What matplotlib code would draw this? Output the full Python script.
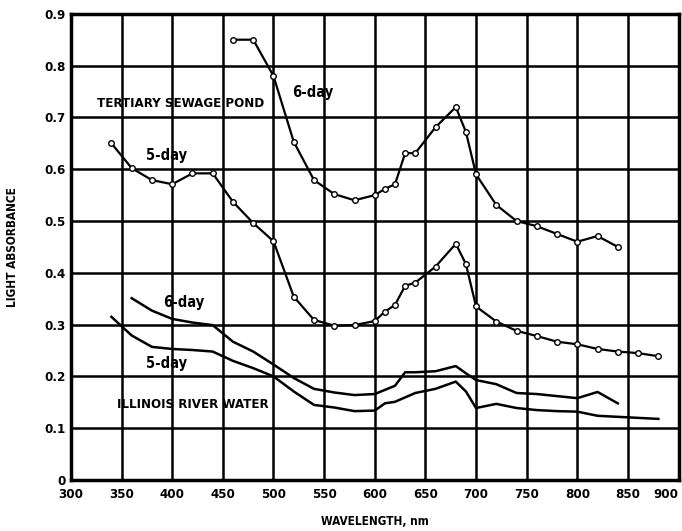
import matplotlib.pyplot as plt

plt.rcParams['font.family'] = ['DejaVu Sans']
plt.rcParams['font.stretch'] = 'condensed'
plt.rcParams['font.weight'] = 'bold'

# tertiary sewage pond, 6-day and 5-day (measured points)
pond6_wl = [460, 480, 500, 520, 540, 560, 580, 600, 610, 620, 630, 640, 660, 680,
            690, 700, 720, 740, 760, 780, 800, 820, 840]
pond6_abs = [0.85, 0.85, 0.78, 0.653, 0.579, 0.552, 0.54, 0.55, 0.562, 0.571, 0.631,
             0.631, 0.681, 0.72, 0.672, 0.59, 0.531, 0.50, 0.49, 0.475, 0.46, 0.471, 0.45]

pond5_wl = [340, 360, 380, 400, 420, 440, 460, 480, 500, 520, 540, 560, 580, 600,
            610, 620, 630, 640, 660, 680, 690, 700, 720, 740, 760, 780, 800, 820,
            840, 860, 880]
pond5_abs = [0.65, 0.602, 0.579, 0.571, 0.592, 0.592, 0.537, 0.496, 0.461, 0.354,
             0.309, 0.298, 0.299, 0.307, 0.325, 0.338, 0.375, 0.381, 0.412, 0.456,
             0.417, 0.335, 0.306, 0.288, 0.278, 0.267, 0.262, 0.253, 0.248, 0.245,
             0.239]

# Illinois river water, 6-day and 5-day (smooth traces)
river6_wl = [360, 380, 400, 420, 440, 460, 480, 500, 520, 540, 560, 580, 600, 610,
             620, 630, 640, 660, 680, 690, 700, 720, 740, 760, 780, 800, 820, 840]
river6_abs = [0.351, 0.327, 0.311, 0.304, 0.299, 0.267, 0.248, 0.223, 0.197, 0.176,
              0.169, 0.164, 0.166, 0.174, 0.182, 0.208, 0.208, 0.21, 0.22, 0.206,
              0.193, 0.185, 0.168, 0.166, 0.162, 0.158, 0.17, 0.148]

river5_wl = [340, 360, 380, 400, 420, 440, 460, 480, 500, 520, 540, 560, 580, 600,
             610, 620, 640, 660, 680, 690, 700, 720, 740, 760, 780, 800, 820, 840,
             860, 880]
river5_abs = [0.315, 0.279, 0.257, 0.253, 0.251, 0.248, 0.23, 0.216, 0.2, 0.171,
              0.145, 0.14, 0.133, 0.134, 0.148, 0.151, 0.168, 0.176, 0.19, 0.171,
              0.139, 0.147, 0.139, 0.135, 0.133, 0.132, 0.124, 0.122, 0.12, 0.118]

x_ticks = [300, 350, 400, 450, 500, 550, 600, 650, 700, 750, 800, 850, 900]
y_ticks = [0, 0.1, 0.2, 0.3, 0.4, 0.5, 0.6, 0.7, 0.8, 0.9]
y_labels = ['0', '0.1', '0.2', '0.3', '0.4', '0.5', '0.6', '0.7', '0.8', '0.9']

fig = plt.figure(figsize=(6.82, 5.31), dpi=100)
ax = fig.add_axes([0.104, 0.096, 0.891, 0.878])

mk = dict(marker='o', markersize=4, markerfacecolor='white', markeredgecolor='black',
          markeredgewidth=1.0, color='black', lw=1.6)
ax.plot(pond6_wl, pond6_abs, **mk)
ax.plot(pond5_wl, pond5_abs, **mk)
ax.plot(river6_wl, river6_abs, color='black', lw=1.8)
ax.plot(river5_wl, river5_abs, color='black', lw=1.8)

ax.set_xlim(300, 900)
ax.set_ylim(0, 0.9)
ax.set_xticks(x_ticks)
ax.set_yticks(y_ticks)
ax.set_yticklabels(y_labels)
ax.grid(True, color='black', lw=1.8)
ax.tick_params(length=0, labelsize=9.5)
ax.tick_params(axis='x', pad=6)
ax.tick_params(axis='y', pad=4)
# keep the last wavelength label inside the figure
ax.get_xticklabels()[-1].set_horizontalalignment('right')
for s in ax.spines.values():
    s.set_linewidth(2.5)

txt = dict(fontsize=9.5, fontweight='bold', va='center', ha='left')
ax.text(326, 0.726, 'TERTIARY SEWAGE POND', **txt)
ax.text(518, 0.749, '6-day', fontsize=10.5, fontweight='bold', va='center', ha='left')
ax.text(374, 0.627, '5-day', fontsize=10.5, fontweight='bold', va='center', ha='left')
ax.text(391, 0.342, '6-day', fontsize=10.5, fontweight='bold', va='center', ha='left')
ax.text(374, 0.224, '5-day', fontsize=10.5, fontweight='bold', va='center', ha='left')
ax.text(345, 0.145, 'ILLINOIS RIVER WATER', **txt)

ax.set_xlabel('WAVELENGTH, nm', fontsize=8.5, fontweight='bold', labelpad=10)
ax.set_ylabel('LIGHT ABSORBANCE', fontsize=8.5, fontweight='bold', labelpad=18)

fig.savefig('out.png', dpi=100)
